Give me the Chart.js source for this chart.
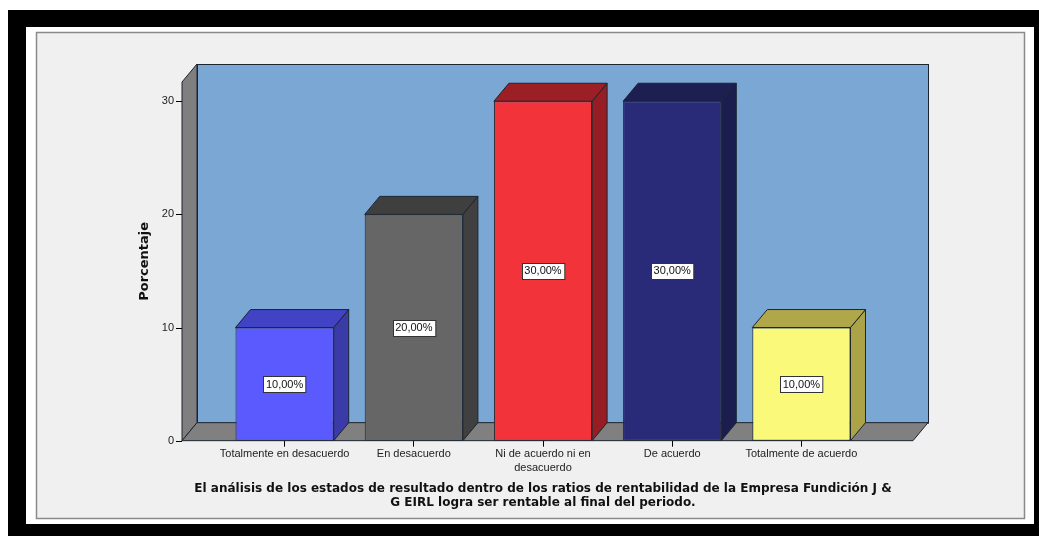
<!DOCTYPE html>
<html>
<head>
<meta charset="utf-8">
<script src="https://cdn.jsdelivr.net/npm/chart.js@4"></script>
<style>
  html, body { margin: 0; padding: 0; background: #fff; }
  canvas { display: block; }
</style>
</head>
<body>
<canvas id="chart" width="1039" height="536"></canvas>
<script>
// Datos
const categorias = [
  "Totalmente en desacuerdo",
  "En desacuerdo",
  ["Ni de acuerdo ni en", "desacuerdo"],
  "De acuerdo",
  "Totalmente de acuerdo"
];
const porcentajes = [10, 20, 30, 30, 10];
const ticksY = [0, 10, 20, 30];
const tituloX = [
  "El análisis de los estados de resultado dentro de los ratios de rentabilidad de la Empresa Fundición J &",
  "G EIRL logra ser rentable al final del periodo."
];

const colorFrente = ["#5a5aff", "#666666", "#f2333a", "#292a78", "#fbf97a"];
const colorLado = ["#3b3ba8", "#404040", "#961d23", "#1c1d4f", "#aca348"];
const colorTapa = ["#4242c4", "#3f3f3f", "#9b1f24", "#1d1e52", "#b0a64a"];

const PROF_X = 15, PROF_Y = 18;
const PISO_IZQ = 38, PISO_DER = 47;
const LINEA = "#1c2530";

Chart.defaults.font.family = "'Liberation Sans', Arial, sans-serif";

const fondo = {
  id: "fondo",
  afterLayout(chart) {
    // el título es más ancho que el área del gráfico: se ensancha su caja sin mover el centro
    const tb = chart.titleBlock;
    if (tb) {
      tb.left -= 60;
      tb.right += 60;
      tb.width = tb.right - tb.left;
    }
  },
  beforeDraw(chart) {
    const ctx = chart.ctx;
    ctx.save();
    ctx.fillStyle = "#fff";
    ctx.fillRect(0, 0, chart.width, chart.height);
    ctx.fillStyle = "#000";
    ctx.fillRect(8, 10, chart.width - 8, chart.height - 10);
    ctx.fillStyle = "#fff";
    ctx.fillRect(26, 27, 1008, 497);
    ctx.fillStyle = "#f0f0f0";
    ctx.fillRect(36, 32, 989, 487);
    ctx.strokeStyle = "#8a8a8a";
    ctx.lineWidth = 1.5;
    ctx.strokeRect(36.5, 32.5, 988, 486);
    ctx.restore();
  },
  beforeDatasetsDraw(chart) {
    const ctx = chart.ctx;
    const ca = chart.chartArea;
    const y = chart.scales.y;
    const y0 = y.getPixelForValue(0);
    const top = ca.top;
    const L = ca.left - PISO_IZQ;
    const R = ca.right + PISO_DER;
    ctx.save();
    ctx.lineWidth = 1;
    ctx.strokeStyle = LINEA;
    // pared del fondo
    ctx.fillStyle = "#7aa7d4";
    ctx.fillRect(L + PROF_X, top - PROF_Y, R - L, y0 - top);
    ctx.strokeRect(L + PROF_X + 0.5, top - PROF_Y + 0.5, R - L, y0 - top);
    // pared izquierda
    ctx.fillStyle = "#7f7f7f";
    ctx.beginPath();
    ctx.moveTo(L, top);
    ctx.lineTo(L + PROF_X, top - PROF_Y);
    ctx.lineTo(L + PROF_X, y0 - PROF_Y);
    ctx.lineTo(L, y0);
    ctx.closePath();
    ctx.fill();
    ctx.stroke();
    // piso
    ctx.fillStyle = "#808080";
    ctx.beginPath();
    ctx.moveTo(L, y0);
    ctx.lineTo(R, y0);
    ctx.lineTo(R + PROF_X, y0 - PROF_Y);
    ctx.lineTo(L + PROF_X, y0 - PROF_Y);
    ctx.closePath();
    ctx.fill();
    ctx.stroke();
    // marcas del eje Y
    ctx.strokeStyle = "#000";
    y.ticks.forEach(t => {
      const py = Math.round(y.getPixelForValue(t.value)) + 0.5;
      ctx.beginPath();
      ctx.moveTo(L - 6, py);
      ctx.lineTo(L, py);
      ctx.stroke();
    });
    ctx.restore();
  },
  afterDatasetsDraw(chart) {
    const ctx = chart.ctx;
    const meta = chart.getDatasetMeta(0);
    ctx.save();
    ctx.lineWidth = 1;
    ctx.strokeStyle = LINEA;
    meta.data.forEach((bar, i) => {
      const l = bar.x - bar.width / 2;
      const r = bar.x + bar.width / 2;
      const t = bar.y;
      const b = bar.base;
      // lado
      ctx.fillStyle = colorLado[i];
      ctx.beginPath();
      ctx.moveTo(r, t);
      ctx.lineTo(r + PROF_X, t - PROF_Y);
      ctx.lineTo(r + PROF_X, b - PROF_Y);
      ctx.lineTo(r, b);
      ctx.closePath();
      ctx.fill();
      ctx.stroke();
      // tapa
      ctx.fillStyle = colorTapa[i];
      ctx.beginPath();
      ctx.moveTo(l, t);
      ctx.lineTo(l + PROF_X, t - PROF_Y);
      ctx.lineTo(r + PROF_X, t - PROF_Y);
      ctx.lineTo(r, t);
      ctx.closePath();
      ctx.fill();
      ctx.stroke();
      // etiqueta
      const txt = porcentajes[i].toFixed(2).replace(".", ",") + "%";
      ctx.font = "11px 'Liberation Sans', Arial, sans-serif";
      const w = ctx.measureText(txt).width + 5;
      const cy = (t + b) / 2;
      const bx = Math.round(bar.x - w / 2) + 0.5;
      const by = Math.round(cy - 8) + 0.5;
      ctx.fillStyle = "#fff";
      ctx.fillRect(bx, by, w, 16);
      ctx.strokeStyle = "#333";
      ctx.strokeRect(bx, by, w, 16);
      ctx.fillStyle = "#111";
      ctx.textAlign = "center";
      ctx.textBaseline = "middle";
      ctx.fillText(txt, bar.x, cy + 0.5);
      ctx.strokeStyle = LINEA;
    });
    ctx.restore();
  }
};

new Chart(document.getElementById("chart"), {
  type: "bar",
  data: {
    labels: categorias,
    datasets: [{
      data: porcentajes,
      backgroundColor: colorFrente,
      borderColor: LINEA,
      borderWidth: 1,
      borderSkipped: false,
      barPercentage: 0.76,
      categoryPercentage: 1
    }]
  },
  options: {
    responsive: false,
    animation: false,
    layout: { padding: { left: 137, right: 173, top: 82, bottom: 26 } },
    plugins: {
      legend: { display: false },
      tooltip: { enabled: false },
      title: {
        display: true,
        position: "bottom",
        fullSize: false,
        text: tituloX,
        color: "#111",
        font: { family: "'DejaVu Sans', sans-serif", size: 12, weight: "bold", lineHeight: 1.18 },
        padding: 0
      }
    },
    scales: {
      x: {
        grid: { display: true, drawOnChartArea: false, offset: false, tickLength: 6, color: "#000" },
        border: { display: false },
        ticks: { color: "#222", font: { size: 11 }, padding: 1, maxRotation: 0, autoSkip: false },
        afterFit: s => { s.height = 41; }
      },
      y: {
        min: 0,
        max: 31.7,
        grid: { display: false, drawTicks: false },
        border: { display: false },
        ticks: { stepSize: 10, color: "#222", font: { size: 11 }, padding: 46 },
        afterBuildTicks: s => { s.ticks = ticksY.map(v => ({ value: v })); },
        title: {
          display: true,
          text: "Porcentaje",
          color: "#111",
          font: { family: "'DejaVu Sans', sans-serif", size: 13, weight: "bold" },
          padding: 0
        },
        afterFit: s => { s.width = 83; }
      }
    }
  },
  plugins: [fondo]
});
</script>
</body>
</html>
